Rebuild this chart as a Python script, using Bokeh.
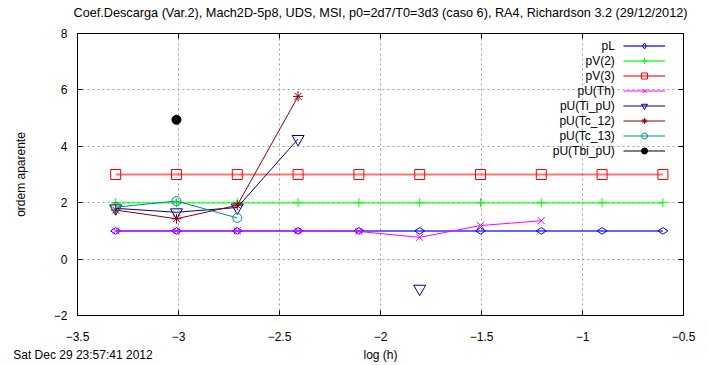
import math
import json
from bokeh.plotting import figure
from bokeh.models import (Range1d, FixedTicker, LinearAxis, Legend, LegendItem,
                          Label, CustomJSTickFormatter, AllLabels)
from bokeh.embed import file_html
from bokeh.resources import INLINE

NaN = float("nan")

# ---- data ----
log_h = [-3.311, -3.010, -2.709, -2.408, -2.107, -1.806, -1.505, -1.204, -0.903, -0.602]
pL = [1.0, 1.0, 1.0, 1.0, 1.0, 1.0, 1.0, 1.0, 1.0, 1.0]
pV2 = [2.0, 2.0, 2.0, 2.0, 2.0, 2.0, 2.0, 2.0, 2.0, 2.0]
pV3 = [3.0, 3.0, 3.0, 3.0, 3.0, 3.0, 3.0, 3.0, 3.0, 3.0]
pU_Th = [1.0, 1.0, 1.0, 1.0, 0.98, 0.77, 1.19, 1.36, NaN, NaN]
pU_Ti = [1.80, 1.66, 1.83, 4.26, NaN, -1.05, NaN, NaN, NaN, NaN]
pU_Tc12 = [1.74, 1.43, 1.91, 5.77, NaN, NaN, NaN, NaN, NaN, NaN]
pU_Tc13 = [1.84, 2.06, 1.46, NaN, NaN, NaN, NaN, NaN, NaN, NaN]
pU_Tbi = [NaN, 4.94, NaN, NaN, NaN, NaN, NaN, NaN, NaN, NaN]

names = ["pL", "pV(2)", "pV(3)", "pU(Th)", "pU(Ti_pU)", "pU(Tc_12)", "pU(Tc_13)", "pU(Tbi_pU)"]
x_ticks = [-3.5, -3.0, -2.5, -2.0, -1.5, -1.0, -0.5]
y_ticks = [-2, 0, 2, 4, 6, 8]

TITLE = "Coef.Descarga (Var.2), Mach2D-5p8, UDS, MSI, p0=2d7/T0=3d3 (caso 6), RA4, Richardson 3.2 (29/12/2012)"
DATE = "Sat Dec 29 23:57:41 2012"
XLABEL = "log (h)"
YLABEL = "ordem aparente"
FONT = "Liberation Sans"

# anchor positions (in x data units) of the outer text rows
bottom_row_pos = [-3.473, -2.0]   # date stamp (left), x label (centre)
top_row_pos = [-2.0]              # title (centre)

p = figure(width=708, height=365, output_backend="svg", toolbar_location=None,
           x_range=Range1d(-3.5, -0.5), y_range=Range1d(-2, 8),
           min_border_left=77, min_border_right=25, min_border_top=33, min_border_bottom=50)
p.background_fill_color = "white"
p.border_fill_color = "white"
p.outline_line_color = "black"
p.outline_line_width = 1

for ax in (p.xaxis[0], p.yaxis[0]):
    ax.axis_line_color = "black"
    ax.major_tick_line_color = "black"
    ax.major_tick_in = 5
    ax.major_tick_out = 0
    ax.minor_tick_line_color = None
    ax.major_label_text_font = FONT
    ax.major_label_text_font_size = "12px"
    ax.major_label_text_color = "black"
    ax.axis_label_text_font = FONT
    ax.axis_label_text_font_size = "12px"
    ax.axis_label_text_font_style = "normal"
    ax.axis_label_text_color = "black"

p.xaxis[0].ticker = FixedTicker(ticks=x_ticks)
p.yaxis[0].ticker = FixedTicker(ticks=y_ticks)
p.yaxis[0].axis_label = YLABEL
p.xaxis[0].major_label_standoff = 16
p.yaxis[0].major_label_standoff = 10
p.yaxis[0].axis_label_standoff = 23

# mirrored inward ticks on the top and right borders
for loc, tk in (("right", y_ticks), ("above", x_ticks)):
    ax = LinearAxis(ticker=FixedTicker(ticks=tk),
                    formatter=CustomJSTickFormatter(code="return ''"))
    ax.axis_line_color = None
    ax.major_tick_line_color = "black"
    ax.major_tick_in = 5
    ax.major_tick_out = 0
    ax.minor_tick_line_color = None
    ax.major_label_text_font_size = "1px"
    ax.major_label_standoff = 0
    p.add_layout(ax, loc)


def text_row(ticks, code, standoff, size, loc):
    ax = LinearAxis(ticker=FixedTicker(ticks=ticks),
                    formatter=CustomJSTickFormatter(code=code),
                    major_label_policy=AllLabels())
    ax.axis_line_color = None
    ax.major_tick_line_color = None
    ax.minor_tick_line_color = None
    ax.major_tick_in = 0
    ax.major_tick_out = 0
    ax.major_label_standoff = standoff
    ax.major_label_text_font = FONT
    ax.major_label_text_font_size = size
    ax.major_label_text_color = "black"
    p.add_layout(ax, loc)


# title row above the frame
text_row(top_row_pos, "return %s" % json.dumps(TITLE), 14, "12.7px", "above")
# bottom text row: date stamp on the left and the x-axis label in the centre
text_row(bottom_row_pos, "return tick < -3 ? %s : %s" % (json.dumps(DATE), json.dumps(XLABEL)),
         4, "12px", "below")

p.xgrid.ticker = FixedTicker(ticks=x_ticks[1:-1])
p.ygrid.ticker = FixedTicker(ticks=y_ticks[1:-1])
for g in (p.xgrid[0], p.ygrid[0]):
    g.grid_line_color = "#a0a0a0"
    g.grid_line_dash = "2 3"
    g.grid_line_width = 1

styles = [
    (pL, "#0000ff", "diamond", 10, 90, 2, 0.6, None),
    (pV2, "#00ff00", "cross", 9, 0, 2, 0.6, None),
    (pV3, "#ff0000", "square", 10, 0, 2, 0.55, None),
    (pU_Th, "#ff00ff", "x", 10, 0, 1, 1.0, None),
    (pU_Ti, "#000090", "inverted_triangle", 12, 0, 1, 1.0, None),
    (pU_Tc12, "#8b0000", "asterisk", 10, 0, 1, 1.0, None),
    (pU_Tc13, "#008b8b", "circle", 9, 0, 1, 1.0, None),
    (pU_Tbi, "#000000", "circle", 9, 0, 1, 1.0, "#000000"),
]

items = []
for name, (ys, color, marker, size, ang, lw, la, fill) in zip(names, styles):
    rl = p.line(log_h, ys, line_color=color, line_width=lw, line_alpha=la)
    rs = p.scatter(log_h, ys, marker=marker, size=size, angle=math.radians(ang),
                   line_color=color, fill_color=fill, line_width=1)
    items.append(LegendItem(label=" ", renderers=[rl, rs]))

frame_bottom = 314.7
frame_left = 77
row_h = 15
first_row = 44.7
legend = Legend(items=items, location=(623 - frame_left, frame_bottom - (first_row - row_h / 2) - row_h * len(items)),
                glyph_width=42, glyph_height=row_h, label_height=row_h, label_width=0,
                label_standoff=0, padding=0, margin=0, spacing=0,
                label_text_font_size="1px",
                background_fill_alpha=0, border_line_alpha=0)
p.add_layout(legend)

for i, name in enumerate(names):
    p.add_layout(Label(x=614.3 - frame_left, y=frame_bottom - (first_row + i * row_h),
                       x_units="screen", y_units="screen", text=name,
                       text_align="right", text_baseline="middle",
                       text_font=FONT, text_font_size="12px", text_color="black"))

open("out.html", "w").write(file_html(p, INLINE))
